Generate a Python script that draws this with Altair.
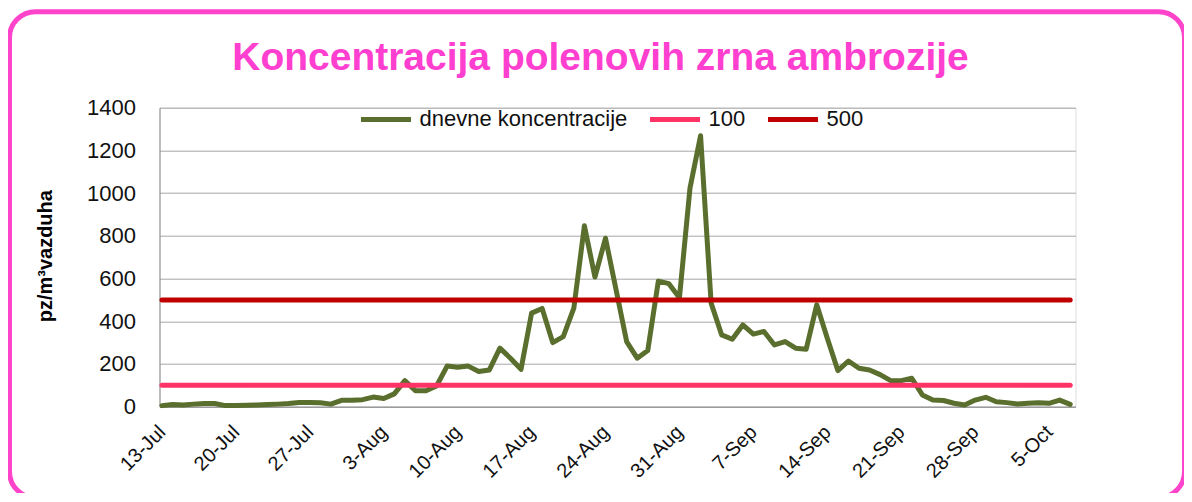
import json
import altair as alt
import pandas as pd

# ---- data ----
start_date = "2012-07-13"
concentration = [
    5, 10, 8, 12, 15, 15, 5, 5, 7, 8,
    10, 12, 15, 20, 20, 18, 12, 30, 30, 33,
    45, 38, 60, 122, 75, 75, 97, 190, 185, 190,
    165, 172, 274, 227, 175, 438, 460, 300, 328, 461,
    847, 607, 789, 547, 305, 227, 263, 588, 576, 510,
    1024, 1269, 485, 336, 316, 383, 340, 352, 289, 305,
    274, 269, 477, 320, 169, 214, 180, 172, 150, 122,
    122, 133, 55, 31, 29, 16, 8, 31, 44, 23,
    19, 13, 16, 19, 16, 31, 11,
]
threshold_names = ["100", "500"]
threshold_levels = [100, 500]
series_names = ["dnevne koncentracije", "100", "500"]
series_colors = ["#5A6E2D", "#FF3366", "#C00000"]
tick_days = [0, 7, 14, 21, 28, 35, 42, 49, 56, 63, 70, 77, 84]
tick_labels = ["13-Jul", "20-Jul", "27-Jul", "3-Aug", "10-Aug", "17-Aug", "24-Aug",
               "31-Aug", "7-Sep", "14-Sep", "21-Sep", "28-Sep", "5-Oct"]
y_ticks = [0, 200, 400, 600, 800, 1000, 1200, 1400]
title_text = ["Koncentracija polenovih zrna ambrozije"]
y_title = "pz/m³vazduha"

dates = pd.date_range(start_date, periods=len(concentration)).strftime("%Y-%m-%d")
days = list(range(len(concentration)))

df_main = pd.DataFrame({"day": days, "date": dates, "value": concentration,
                        "series": series_names[0]})
df_thr = pd.concat([
    pd.DataFrame({"day": days, "date": dates, "value": [lvl] * len(days), "series": name})
    for name, lvl in zip(threshold_names, threshold_levels)
], ignore_index=True)

FONT = "Liberation Sans"
W, H = 916, 299

label_expr = json.dumps(tick_labels) + "[round(datum.value / 7)]"

x_enc = alt.X("day:Q",
              scale=alt.Scale(domain=[-0.23, 86.5], nice=False, zero=False),
              axis=alt.Axis(values=tick_days, labelExpr=label_expr, labelAngle=-45,
                            labelAlign="right", labelBaseline="middle", labelPadding=22,
                            labelFontSize=20, labelFont=FONT, labelColor="#111",
                            ticks=False, grid=False, domainColor="#8C8C8C",
                            labelOverlap=False, title=None))
y_enc = alt.Y("value:Q",
              scale=alt.Scale(domain=[0, 1400], nice=False),
              axis=alt.Axis(values=y_ticks, format="d", labelFontSize=22, labelFont=FONT,
                            labelColor="#111", labelPadding=24, ticks=False,
                            grid=True, gridColor="#A6A6A6", domainColor="#8C8C8C",
                            title=y_title, titleFont=FONT, titleFontSize=20,
                            titleFontWeight="bold", titleColor="#000",
                            titleAngle=-90, titleAlign="center", titleBaseline="middle",
                            titleX=-114, titleY=148))
color_enc = alt.Color("series:N",
                      scale=alt.Scale(domain=series_names, range=series_colors),
                      legend=alt.Legend(orient="none", legendX=199, legendY=-16,
                                        direction="horizontal", title=None,
                                        symbolType="stroke", symbolSize=2500,
                                        symbolStrokeWidth=5, labelFontSize=22,
                                        labelFont=FONT, labelColor="#111",
                                        labelLimit=0, labelOffset=6, columnPadding=12,
                                        padding=0))

main_line = alt.Chart(df_main).mark_line(strokeWidth=5, strokeCap="round",
                                         strokeJoin="round").encode(
    x=x_enc, y=y_enc, color=color_enc)
thr_line = alt.Chart(df_thr).mark_line(strokeWidth=5, strokeCap="round").encode(
    x=alt.X("day:Q"), y=alt.Y("value:Q"), color=alt.Color("series:N"), detail="series:N")

border = alt.Chart(pd.DataFrame({"k": [0]})).mark_rect(
    filled=False, stroke="#FF44CC", strokeWidth=5, cornerRadius=26).encode(
    x=alt.value(-150), x2=alt.value(1025), y=alt.value(-96), y2=alt.value(390))

title = alt.Chart(pd.DataFrame({"t": title_text})).mark_text(
    font=FONT, fontSize=39, fontWeight="bold", color="#FF3FCF",
    align="center", baseline="alphabetic").encode(
    text="t:N", x=alt.value(441), y=alt.value(-37.7))

chart = alt.layer(border, main_line, thr_line, title).properties(
    width=W, height=H,
    autosize=alt.AutoSizeParams(type="none"),
    padding={"left": 151.5, "top": 99.7, "right": 108.5, "bottom": 86},
).configure_view(stroke=None).configure(background="white")

chart.save("out.html", embed_options={"renderer": "svg", "actions": False})
